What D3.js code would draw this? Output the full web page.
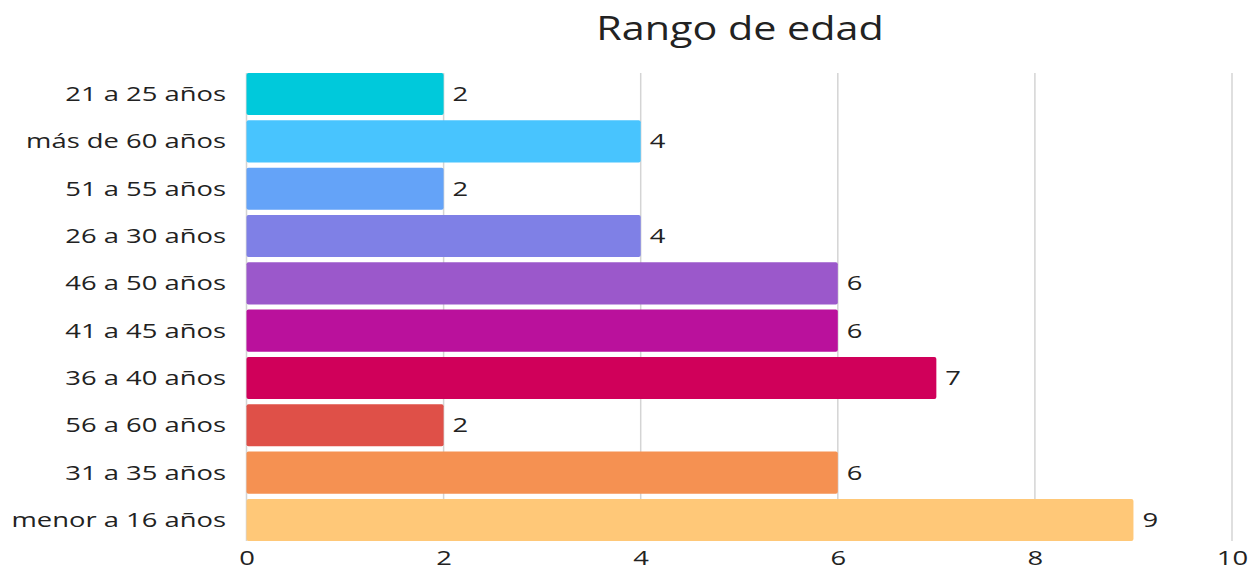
<!DOCTYPE html>
<html>
<head>
<meta charset="utf-8">
<script src="https://cdn.jsdelivr.net/npm/d3@7"></script>
<style>
  body { margin: 0; background: #fff; font-family: "Open Sans", sans-serif; }
</style>
</head>
<body>
<script>
// data
var categories = ["21 a 25 años", "más de 60 años", "51 a 55 años", "26 a 30 años", "46 a 50 años",
  "41 a 45 años", "36 a 40 años", "56 a 60 años", "31 a 35 años", "menor a 16 años"];
var values = [2, 4, 2, 4, 6, 6, 7, 2, 6, 9];
var colors = ["#00C9DB", "#48C4FE", "#64A3F8", "#7F80E6", "#9B58CB", "#BA119C", "#D0005A", "#DF5048", "#F59152", "#FFC878"];
var ticks = [0, 2, 4, 6, 8, 10];

var W = 1252, H = 571;
// the source image has its text stretched sideways
var stretch = 1.37;

var svg = d3.select("body").append("svg")
  .attr("width", W)
  .attr("height", H);

var x = d3.scaleLinear().domain([0, 10]).range([246.5, 1232]);
var y = d3.scaleBand().domain(categories).range([73, 541]).paddingInner(0.11).paddingOuter(0);

// title
svg.append("text")
  .attr("transform", "translate(740,40) scale(1.29,1)")
  .attr("text-anchor", "middle")
  .style("font-size", "32px")
  .style("fill", "#222")
  .text("Rango de edad");

// gridlines
svg.append("g").selectAll("line")
  .data(ticks)
  .enter()
  .append("line")
  .attr("x1", d => x(d))
  .attr("x2", d => x(d))
  .attr("y1", y.range()[0])
  .attr("y2", y(categories[categories.length - 1]) + y.bandwidth())
  .attr("stroke", "#d4d4d4")
  .attr("stroke-width", 1.5);

// bars
svg.append("g").selectAll("rect")
  .data(values)
  .enter()
  .append("rect")
  .attr("x", x(0))
  .attr("y", (d, i) => y(categories[i]))
  .attr("width", d => x(d) - x(0))
  .attr("height", y.bandwidth())
  .attr("rx", 2)
  .attr("fill", (d, i) => colors[i]);

// value labels
svg.append("g").selectAll("text")
  .data(values)
  .enter()
  .append("text")
  .attr("transform", (d, i) => "translate(" + (x(d) + 9) + "," + (y(categories[i]) + y.bandwidth() / 2) + ") scale(" + stretch + ",1)")
  .attr("dy", "0.35em")
  .style("font-size", "20px")
  .style("fill", "#222")
  .text(d => d);

// category labels
svg.append("g").selectAll("text")
  .data(categories)
  .enter()
  .append("text")
  .attr("transform", d => "translate(226," + (y(d) + y.bandwidth() / 2) + ") scale(" + stretch + ",1)")
  .attr("dy", "0.35em")
  .attr("text-anchor", "end")
  .style("font-size", "20px")
  .style("fill", "#222")
  .text(d => d);

// x axis
var xAxis = svg.append("g")
  .attr("transform", "translate(0,541)")
  .call(d3.axisBottom(x).tickValues(ticks).tickSize(0).tickPadding(0));
xAxis.select(".domain").remove();
xAxis.selectAll("text")
  .attr("y", null)
  .attr("dy", null)
  .attr("transform", "translate(0,24) scale(" + stretch + ",1)")
  .style("font-family", "Open Sans, sans-serif")
  .style("font-size", "20px")
  .style("fill", "#222");
</script>
</body>
</html>
